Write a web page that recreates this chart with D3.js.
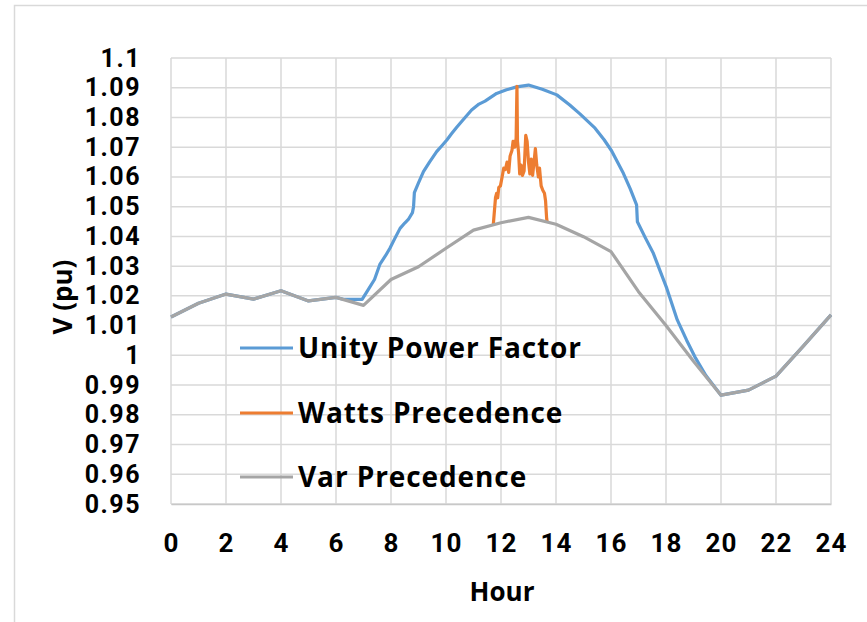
<!DOCTYPE html>
<html lang="en">
<head>
  <meta charset="UTF-8">
  <title>Voltage vs Hour</title>
  <script src="https://d3js.org/d3.v7.min.js"></script>
  <style>
    body {
      margin: 0;
      background: #fff;
    }
    svg {
      font-family: "Open Sans", sans-serif;
      font-weight: bold;
    }
  </style>
</head>
<body>
  <svg width="867" height="622"></svg>

  <script>
    // x ticks / y ticks
    const hourTicks = [0, 2, 4, 6, 8, 10, 12, 14, 16, 18, 20, 22, 24];
    const voltTicks = [0.95, 0.96, 0.97, 0.98, 0.99, 1, 1.01, 1.02, 1.03, 1.04, 1.05, 1.06, 1.07, 1.08, 1.09, 1.1];

    // Var Precedence - hourly
    const varHours = [0, 1, 2, 3, 4, 5, 6, 7, 8, 9, 10, 11, 12, 13, 14, 15, 16, 17, 18, 19, 20, 21, 22, 23, 24];
    const varValues = [1.0129, 1.0175, 1.0206, 1.0189, 1.0217, 1.0183, 1.0195, 1.0168, 1.0255, 1.0298, 1.0360, 1.0421, 1.0446,
      1.0464, 1.0441, 1.0399, 1.0349, 1.0214, 1.0100, 0.9980, 0.9866, 0.9883, 0.9930, 1.0032, 1.0136];

    // Unity Power Factor
    const unityHours = [0, 1, 2, 3, 4, 5, 6, 6.3, 6.95, 7.2, 7.4, 7.6, 7.8, 7.96, 8.15, 8.33, 8.5, 8.63, 8.78, 8.82, 8.85, 9.0,
      9.18, 9.4, 9.66, 9.85, 10.03, 10.2, 10.39, 10.6, 10.93, 11.2, 11.42, 11.84, 12.2, 12.57, 13.0, 13.5, 14.03, 14.5,
      14.87, 15.42, 15.75, 16.02, 16.45, 16.7, 16.93, 16.96, 17.25, 17.54, 17.76, 18.03, 18.41, 18.75, 19.05, 19.45,
      20, 21, 22, 23, 24];
    const unityValues = [1.0129, 1.0175, 1.0206, 1.0189, 1.0217, 1.0183, 1.0195, 1.0188, 1.0188, 1.0225, 1.0255, 1.0307,
      1.0335, 1.0360, 1.0395, 1.0427, 1.0445, 1.0457, 1.0480, 1.0500, 1.0547, 1.0580, 1.0618, 1.0650, 1.0685, 1.0705,
      1.0724, 1.0745, 1.0767, 1.0790, 1.0825, 1.0845, 1.0855, 1.0881, 1.0893, 1.0903, 1.0909, 1.0895, 1.0876, 1.0842,
      1.0812, 1.0764, 1.0725, 1.0688, 1.0612, 1.0560, 1.0506, 1.0449, 1.0395, 1.0343, 1.0290, 1.0225, 1.0119, 1.0051,
      0.9995, 0.9932, 0.9866, 0.9883, 0.9930, 1.0032, 1.0136];

    // Watts Precedence (only the part that leaves the Var curve)
    const wattsHours = [11.72, 11.80, 11.84, 11.88, 11.92, 11.98, 12.04, 12.10, 12.16, 12.22, 12.28, 12.33, 12.40, 12.44,
      12.50, 12.55, 12.58, 12.60, 12.64, 12.68, 12.73, 12.78, 12.84, 12.90, 12.95, 13.00, 13.05, 13.10, 13.15, 13.20,
      13.25, 13.30, 13.36, 13.40, 13.46, 13.52, 13.58, 13.62, 13.66, 13.68];
    const wattsValues = [1.0440, 1.0530, 1.0545, 1.0530, 1.0565, 1.0570, 1.0600, 1.0630, 1.0625, 1.0650, 1.0615, 1.0670,
      1.0690, 1.0720, 1.0700, 1.0730, 1.0905, 1.0720, 1.0680, 1.0610, 1.0640, 1.0605, 1.0620, 1.0740, 1.0720, 1.0650,
      1.0610, 1.0660, 1.0605, 1.0650, 1.0695, 1.0640, 1.0600, 1.0630, 1.0570, 1.0555, 1.0545, 1.0520, 1.0460, 1.0448];

    const seriesNames = ["Unity Power Factor", "Watts Precedence", "Var Precedence"];
    const seriesColors = ["#5b9bd5", "#ed7d31", "#a5a5a5"];

    const margin = { top: 58, right: 36, bottom: 118, left: 171 },
      width = 867 - margin.left - margin.right,
      height = 622 - margin.top - margin.bottom;

    const svg = d3.select("svg");

    // outer chart frame
    svg.append("rect")
      .attr("x", 14.5).attr("y", 5.5)
      .attr("width", 900).attr("height", 700)
      .attr("fill", "none")
      .attr("stroke", "#d9d9d9")
      .attr("stroke-width", 1.5);

    const g = svg.append("g")
      .attr("transform", `translate(${margin.left},${margin.top})`);

    const x = d3.scaleLinear().domain([0, 24]).range([0, width]);
    const y = d3.scaleLinear().domain([0.95, 1.1]).range([height, 0]);

    // grid
    g.append("g")
      .selectAll("line")
      .data(voltTicks)
      .join("line")
      .attr("x1", 0).attr("x2", width)
      .attr("y1", d => y(d)).attr("y2", d => y(d))
      .attr("stroke", "#d9d9d9")
      .attr("stroke-width", 1.5);

    g.append("g")
      .selectAll("line")
      .data(hourTicks)
      .join("line")
      .attr("x1", d => x(d)).attr("x2", d => x(d))
      .attr("y1", 0).attr("y2", height)
      .attr("stroke", "#d9d9d9")
      .attr("stroke-width", 1.5);

    // axes (labels only)
    const fmt = d => String(+d.toFixed(2));

    const yAxis = d3.axisLeft(y).tickValues(voltTicks).tickFormat(fmt).tickSize(0).tickPadding(30);
    g.append("g")
      .call(yAxis)
      .call(a => a.select(".domain").remove())
      .selectAll("text")
      .attr("font-family", "Roboto, sans-serif")
      .attr("font-weight", "bold")
      .attr("font-size", 25)
      .attr("letter-spacing", 1.5)
      .attr("fill", "#000");

    const xAxis = d3.axisBottom(x).tickValues(hourTicks).tickSize(0).tickPadding(30);
    g.append("g")
      .attr("transform", `translate(0,${height})`)
      .call(xAxis)
      .call(a => a.select(".domain").attr("stroke", "#c8c8c8").attr("stroke-width", 1.5))
      .selectAll("text")
      .attr("font-family", "Roboto, sans-serif")
      .attr("font-weight", "bold")
      .attr("font-size", 26)
      .attr("letter-spacing", 1)
      .attr("fill", "#000");

    // axis titles
    svg.append("text")
      .attr("x", 502).attr("y", 601)
      .attr("text-anchor", "middle")
      .attr("font-size", 26)
      .text("Hour");

    svg.append("text")
      .attr("transform", "translate(72,297) rotate(-90)")
      .attr("text-anchor", "middle")
      .attr("font-size", 26)
      .text("V (pu)");

    // lines
    const line = d3.line()
      .x(d => x(d[0]))
      .y(d => y(d[1]));

    const unity = d3.zip(unityHours, unityValues);
    const watts = d3.zip(wattsHours, wattsValues);
    const vars = d3.zip(varHours, varValues);

    [unity, watts, vars].forEach((data, i) => {
      g.append("path")
        .datum(data)
        .attr("fill", "none")
        .attr("stroke", seriesColors[i])
        .attr("stroke-width", 3.2)
        .attr("stroke-linejoin", "round")
        .attr("d", line);
    });

    // legend
    const legendY = [348, 413, 477];
    const legend = svg.append("g");
    seriesNames.forEach((name, i) => {
      legend.append("line")
        .attr("x1", 240).attr("x2", 293)
        .attr("y1", legendY[i]).attr("y2", legendY[i])
        .attr("stroke", seriesColors[i])
        .attr("stroke-width", 3.2);
      legend.append("text")
        .attr("x", 298).attr("y", legendY[i])
        .attr("dy", "0.36em")
        .attr("font-size", 28)
        .attr("letter-spacing", 0.9)
        .text(name);
    });
  </script>
</body>
</html>
